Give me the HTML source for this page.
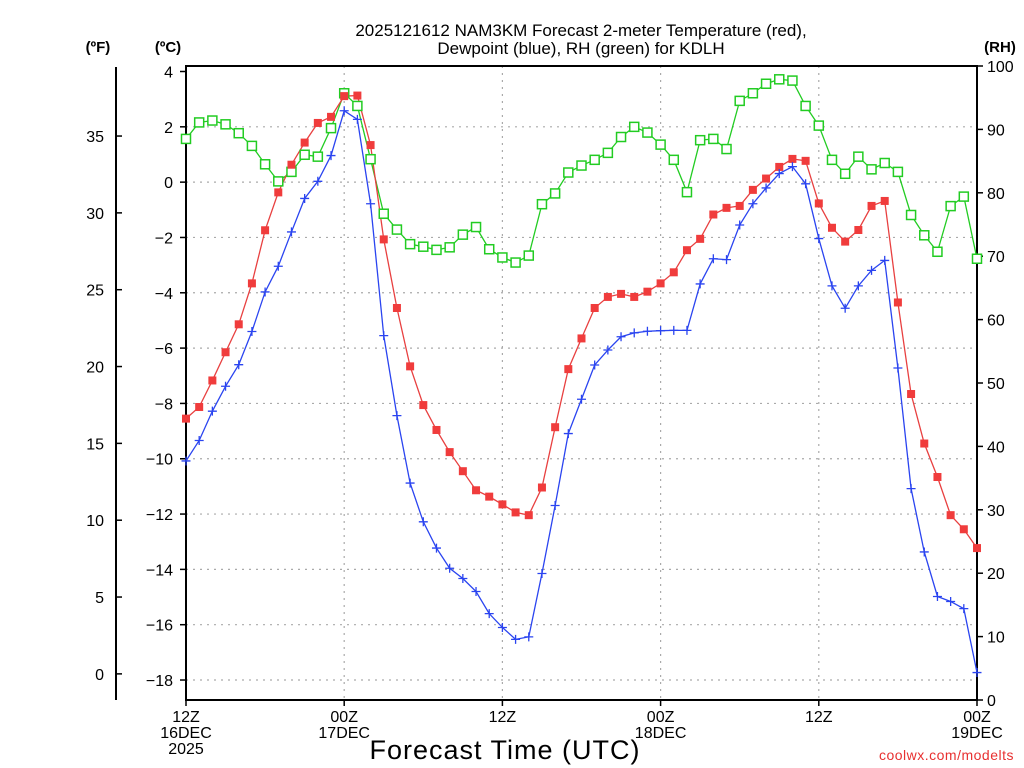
<!DOCTYPE html>
<html><head><meta charset="utf-8"><style>
html,body{margin:0;padding:0;background:#fff;}
svg{display:block;font-family:"Liberation Sans",sans-serif;}
</style></head><body>
<svg id="chart" width="1024" height="768" viewBox="0 0 1024 768">
<g id="grid"></g>
<g id="axes"></g>
<g id="series"></g>
<text x="581" y="36" text-anchor="middle" font-size="17">2025121612 NAM3KM Forecast 2-meter Temperature (red),</text>
<text x="581" y="54" text-anchor="middle" font-size="17">Dewpoint (blue), RH (green) for KDLH</text>
<text x="98" y="52" text-anchor="middle" font-size="15" font-weight="bold">(ºF)</text>
<text x="168" y="52" text-anchor="middle" font-size="15" font-weight="bold">(ºC)</text>
<text x="1000" y="52" text-anchor="middle" font-size="15" font-weight="bold">(RH)</text>
<text x="505" y="759" text-anchor="middle" font-size="27" letter-spacing="1">Forecast Time (UTC)</text>
<text x="1014" y="760" text-anchor="end" font-size="14" fill="#e83030" letter-spacing="0.5">coolwx.com/modelts</text>
</svg>
<script>
const tempC = [-8.55,-8.13,-7.17,-6.15,-5.14,-3.66,-1.74,-0.37,0.63,1.43,2.14,2.36,3.11,3.13,1.34,-2.07,-4.55,-6.66,-8.06,-8.96,-9.76,-10.45,-11.14,-11.37,-11.65,-11.94,-12.04,-11.04,-8.86,-6.76,-5.65,-4.55,-4.15,-4.04,-4.15,-3.96,-3.66,-3.26,-2.46,-2.05,-1.17,-0.93,-0.86,-0.28,0.13,0.55,0.84,0.77,-0.77,-1.65,-2.15,-1.73,-0.86,-0.68,-4.35,-7.66,-9.45,-10.66,-12.04,-12.55,-13.23];
const dewC = [-10.08,-9.34,-8.28,-7.38,-6.60,-5.40,-3.97,-3.04,-1.80,-0.59,0.03,0.96,2.58,2.27,-0.78,-5.55,-8.44,-10.88,-12.28,-13.23,-13.96,-14.33,-14.80,-15.60,-16.10,-16.53,-16.44,-14.15,-11.69,-9.09,-7.85,-6.61,-6.07,-5.59,-5.45,-5.39,-5.37,-5.36,-5.36,-3.68,-2.77,-2.80,-1.55,-0.78,-0.21,0.31,0.56,-0.06,-2.04,-3.75,-4.56,-3.75,-3.19,-2.83,-6.72,-11.08,-13.37,-14.98,-15.16,-15.42,-17.73];
const rh = [88.5,91.1,91.4,90.8,89.4,87.4,84.5,81.8,83.3,86.0,85.7,90.2,95.7,93.7,85.3,76.7,74.2,71.9,71.5,71.0,71.4,73.4,74.6,71.1,69.8,69.0,70.1,78.2,79.9,83.2,84.3,85.2,86.3,88.8,90.4,89.5,87.6,85.2,80.1,88.3,88.5,86.9,94.5,95.7,97.2,97.9,97.7,93.7,90.6,85.2,83.0,85.7,83.7,84.7,83.3,76.5,73.3,70.7,77.9,79.4,69.6];
const cTicks = [4,2,0,-2,-4,-6,-8,-10,-12,-14,-16,-18];
const fTicks = [35,30,25,20,15,10,5,0];
const rhTicks = [100,90,80,70,60,50,40,30,20,10,0];
const xLabelHours = [0,12,24,36,48,60];
const xLabels = [["12Z","16DEC","2025"],["00Z","17DEC"],["12Z"],["00Z","18DEC"],["12Z"],["00Z","19DEC"]];
const totalHours = 60;

const L=186,R=977,T=66,B=700;
const xS = h => L + (R-L)*h/totalHours;
const yC = c => 71.5 + (4-c)*27.66;
const yF = f => yC((f-32)*5/9);
const yRH = v => B - v*(B-T)/100;
const NS="http://www.w3.org/2000/svg";
function mk(parent,tag,attrs){const e=document.createElementNS(NS,tag);for(const k in attrs)e.setAttribute(k,attrs[k]);parent.appendChild(e);return e;}
const grid=document.getElementById('grid'),axes=document.getElementById('axes'),series=document.getElementById('series');

cTicks.forEach(c=>{
  if(c<4){const g=mk(grid,'line',{x1:L,x2:R,y1:yC(c),y2:yC(c),stroke:'#aaa','stroke-width':1.2,'stroke-dasharray':'2,5'});
  
  }
  const t=mk(axes,'line',{x1:L-6,x2:L,y1:yC(c),y2:yC(c),stroke:'#000','stroke-width':1.5});
  
  
  const tx=mk(axes,'text',{x:L-13,y:yC(c)+6,'text-anchor':'end','font-size':16});
  tx.textContent=(c<0?'\u2212'+(-c):c);
  
  
});
[12,24,36,48].forEach(h=>{
  const g=mk(grid,'line',{x1:xS(h),x2:xS(h),y1:T,y2:B,stroke:'#aaa','stroke-width':1.2,'stroke-dasharray':'2,5'});
  
  
});
const fl=mk(axes,'line',{x1:116,x2:116,y1:67,y2:700,stroke:'#000','stroke-width':2});


fTicks.forEach(f=>{
  const t=mk(axes,'line',{x1:116,x2:122,y1:yF(f),y2:yF(f),stroke:'#000','stroke-width':1.5});
  
  
  const tx=mk(axes,'text',{x:104,y:yF(f)+6,'text-anchor':'end','font-size':16});
  tx.textContent=f;
  
  
});
rhTicks.forEach(v=>{
  const t=mk(axes,'line',{x1:R,x2:R+6,y1:yRH(v),y2:yRH(v),stroke:'#000','stroke-width':1.5});
  
  
  const tx=mk(axes,'text',{x:R+10,y:yRH(v)+6,'text-anchor':'start','font-size':16});
  tx.textContent=v;
  
  
});
xLabelHours.forEach((h,i)=>{
  const t=mk(axes,'line',{x1:xS(h),x2:xS(h),y1:B,y2:B+6,stroke:'#000','stroke-width':1.5});
  
  
  xLabels[i].forEach((s,j)=>{
    const tx=mk(axes,'text',{x:xS(h),y:722+j*16,'text-anchor':'middle','font-size':16});
    tx.textContent=s;
    
    
  });
});
const fr=mk(axes,'rect',{x:L,y:T,width:R-L,height:B-T,fill:'none',stroke:'#000','stroke-width':2});



function line(arr,yf,color,name){
  const pts=arr.map((v,i)=>xS(i)+','+yf(v)).join(' ');
  const p=mk(series,'polyline',{points:pts,fill:'none',stroke:color,'stroke-width':1.3});
  
  
}
line(rh,yRH,'#22cc22','rh-line');
line(tempC,yC,'#e84040','temperature-line');
line(dewC,yC,'#2a44f0','dewpoint-line');
rh.forEach((v,i)=>{
  const m=mk(series,'rect',{x:xS(i)-4.5,y:yRH(v)-4.5,width:9,height:9,fill:'#fff',stroke:'#22cc22','stroke-width':1.5});
  
  
});
tempC.forEach((v,i)=>{
  const m=mk(series,'rect',{x:xS(i)-4,y:yC(v)-4,width:8,height:8,fill:'#f03c3c'});
  
  
});
dewC.forEach((v,i)=>{
  const x=xS(i),y=yC(v);
  const m=mk(series,'path',{d:`M${x-4.5},${y}H${x+4.5}M${x},${y-4.5}V${y+4.5}`,stroke:'#2a44f0','stroke-width':1.3,fill:'none'});
  
  
});
</script>
</body></html>
